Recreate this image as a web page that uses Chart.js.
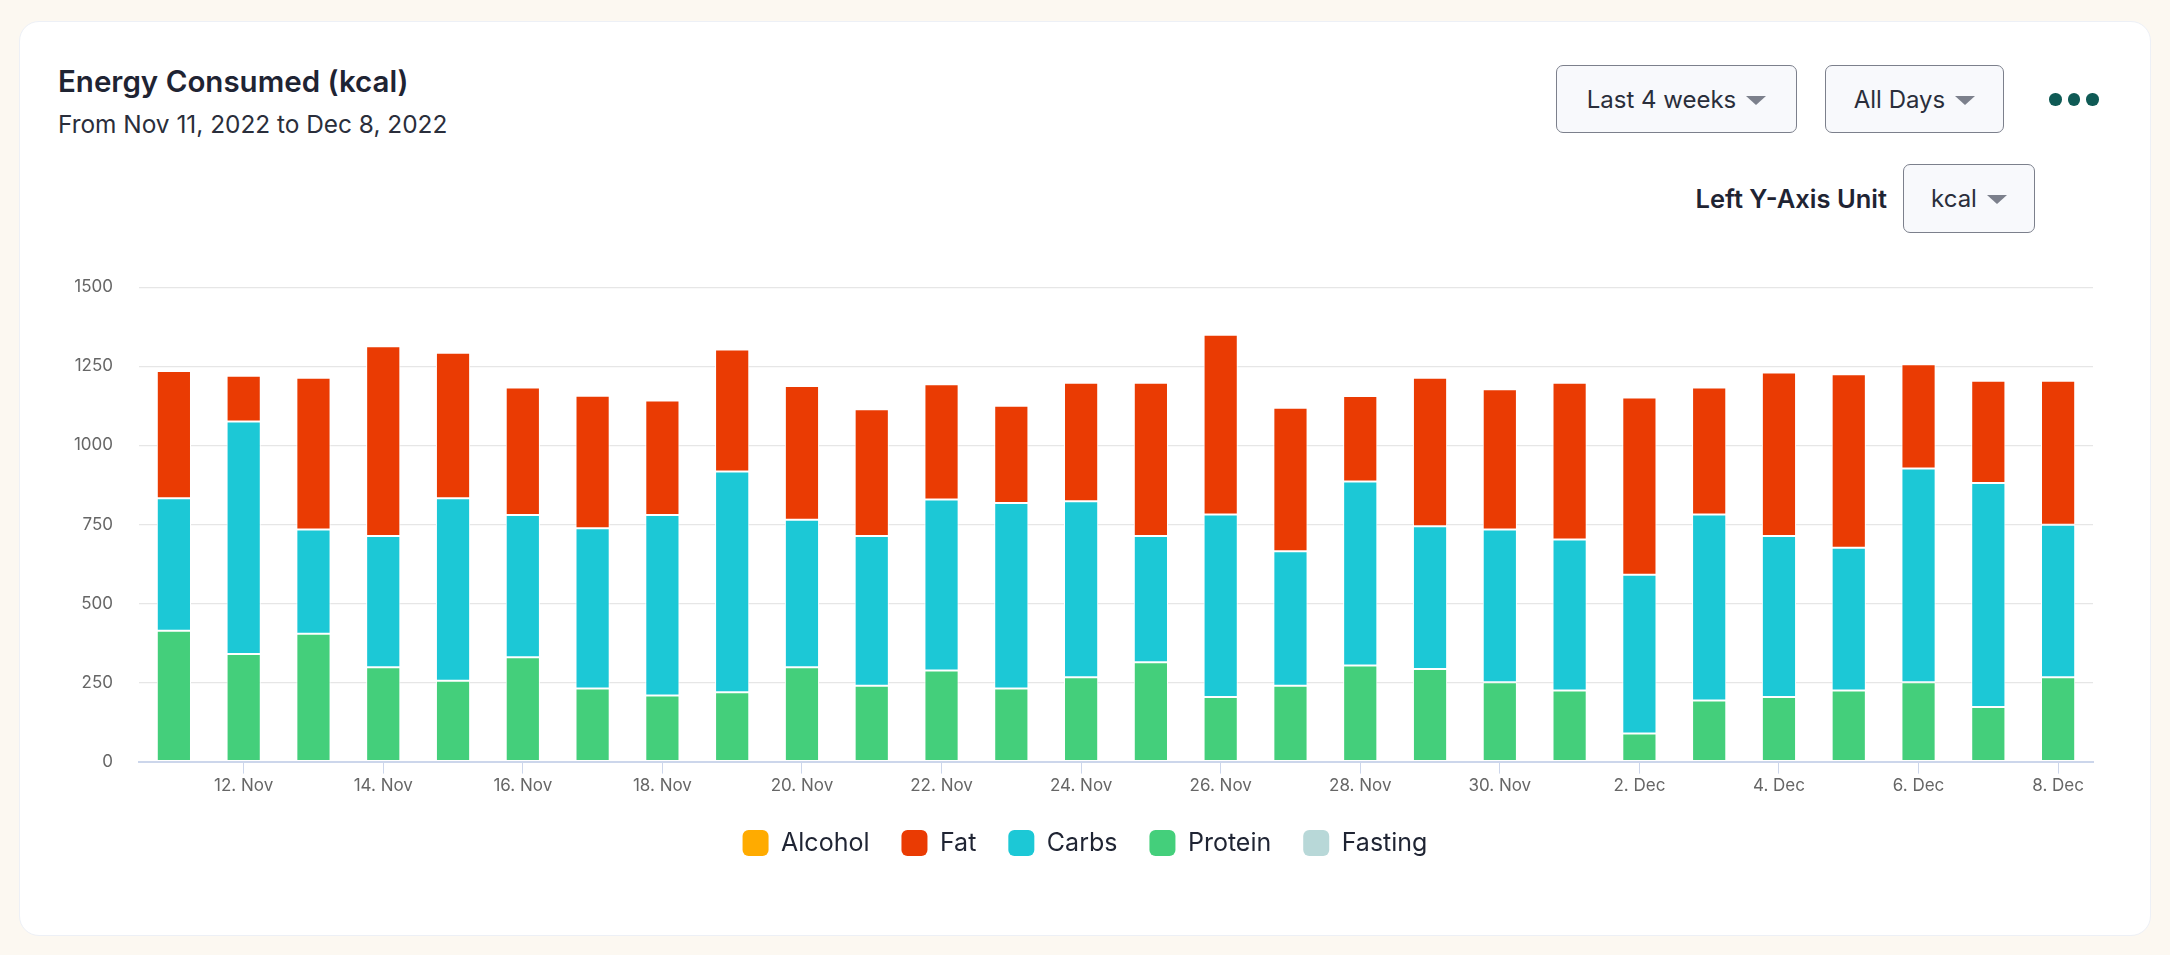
<!DOCTYPE html>
<html>
<head>
<meta charset="utf-8">
<script src="https://cdn.jsdelivr.net/npm/chart.js@4.4.0/dist/chart.umd.min.js"></script>
<style>
  body { margin: 0; width: 2170px; height: 955px; overflow: hidden; position: relative;
         background: #fcf8f1; font-family: Inter, "Noto Sans", sans-serif; color: #1f2433; }
  .card { position: absolute; left: 19px; top: 21px; width: 2132px; height: 915px; background: #fff;
          border: 1px solid #edf0f6; border-radius: 20px; box-sizing: border-box; }
  .title { position: absolute; left: 58px; top: 67px; font-size: 29.5px; line-height: 29.5px; font-weight: 600; white-space: nowrap; }
  .sub { position: absolute; left: 58px; top: 112px; font-size: 24.4px; line-height: 25px; color: #2a2e3b; white-space: nowrap; }
  .btn { position: absolute; display: flex; align-items: center; justify-content: center; gap: 10px;
         background: #f8f9fc; border: 1.5px solid #7c808c; border-radius: 7px; box-sizing: border-box;
         font-size: 24px; color: #2a2e3b; }
  .caret { width: 0; height: 0; border-left: 10px solid transparent; border-right: 10px solid transparent;
           border-top: 9px solid #7c808c; margin-top: 2px; }
  .dots { position: absolute; left: 2049px; top: 93px; display: flex; gap: 6px; }
  .dots span { width: 12.5px; height: 12.5px; border-radius: 50%; background: #0f5a55; }
  .unit { position: absolute; right: 283px; top: 186px; font-size: 25.5px; line-height: 25px; font-weight: 600; white-space: nowrap; }
  #wrap { position: absolute; left: 40px; top: 251px; width: 2090px; height: 627px; }
</style>
</head>
<body>
<div class="card"></div>
<div class="title">Energy Consumed (kcal)</div>
<div class="sub">From Nov 11, 2022 to Dec 8, 2022</div>
<div class="btn" style="left:1556px;top:65px;width:241px;height:68px">Last 4 weeks<span class="caret"></span></div>
<div class="btn" style="left:1825px;top:65px;width:179px;height:68px">All Days<span class="caret"></span></div>
<div class="dots"><span></span><span></span><span></span></div>
<div class="unit">Left Y-Axis Unit</div>
<div class="btn" style="left:1903px;top:164px;width:132px;height:69px">kcal<span class="caret"></span></div>
<div id="wrap"><canvas id="energyChart"></canvas></div>

<script>
'use strict';

// 日付ラベル
const days = ['11. Nov', '12. Nov', '13. Nov', '14. Nov', '15. Nov', '16. Nov', '17. Nov',
              '18. Nov', '19. Nov', '20. Nov', '21. Nov', '22. Nov', '23. Nov', '24. Nov',
              '25. Nov', '26. Nov', '27. Nov', '28. Nov', '29. Nov', '30. Nov', '1. Dec',
              '2. Dec', '3. Dec', '4. Dec', '5. Dec', '6. Dec', '7. Dec', '8. Dec'];

// kcal per day
const protein = [414, 340, 404, 298, 256, 330, 231, 209, 219, 298, 240, 288, 231, 267,
                 314, 204, 240, 304, 293, 251, 225, 89, 193, 204, 225, 251, 173, 267];
const carbs   = [419, 735, 330, 415, 577, 450, 507, 571, 698, 467, 473, 541, 587, 556,
                 399, 577, 425, 582, 451, 483, 477, 502, 588, 509, 451, 676, 708, 482];
const fat     = [402, 145, 480, 600, 460, 403, 419, 362, 386, 423, 401, 364, 307, 375,
                 485, 569, 454, 270, 470, 443, 496, 560, 402, 517, 549, 329, 323, 455];
const alcohol = [];
const fasting = [];

const yTicks = [0, 250, 500, 750, 1000, 1250, 1500];

// 凡例の並び順
const legendOrder = ['Alcohol', 'Fat', 'Carbs', 'Protein', 'Fasting'];

const tickFont = { family: 'Inter', size: 17 };

{
    const ctx = document.getElementById('energyChart');
    const bar = (label, data, color) => ({
        label: label,
        data: data,
        backgroundColor: color,
        borderColor: '#ffffff',
        borderWidth: 1,
        borderSkipped: false,
        categoryPercentage: 1,
        barPercentage: 0.49,
        stack: 'kcal'
    });

    new Chart(ctx, {
        type: 'bar',
        data: {
            labels: days,
            // stacked from the bottom: protein, carbs, fat, alcohol
            datasets: [
                bar('Protein', protein, '#44cf7b'),
                bar('Carbs', carbs, '#1cc8d6'),
                bar('Fat', fat, '#ea3b03'),
                bar('Alcohol', alcohol, '#ffab00'),
                bar('Fasting', fasting, '#b8d8d8')
            ]
        },
        options: {
            responsive: true,
            maintainAspectRatio: false,
            animation: false,
            layout: { padding: { top: 3, right: 0, bottom: 12, left: 0 } },
            plugins: {
                tooltip: { enabled: false },
                legend: {
                    position: 'bottom',
                    labels: {
                        font: { family: 'Inter', size: 25 },
                        color: '#1f2433',
                        boxWidth: 26,
                        boxHeight: 26,
                        useBorderRadius: true,
                        borderRadius: 6,
                        padding: 32,
                        sort: (a, b) => legendOrder.indexOf(a.text) - legendOrder.indexOf(b.text),
                        generateLabels: (chart) => chart.data.datasets.map((ds, i) => ({
                            text: ds.label,
                            fillStyle: ds.backgroundColor,
                            strokeStyle: ds.backgroundColor,
                            lineWidth: 0,
                            borderRadius: 6,
                            fontColor: '#1f2433',
                            hidden: !chart.isDatasetVisible(i),
                            datasetIndex: i
                        }))
                    }
                }
            },
            scales: {
                x: {
                    stacked: true,
                    offset: true,
                    grid: {
                        display: true,
                        offset: false,
                        drawOnChartArea: false,
                        drawTicks: true,
                        tickLength: 12,
                        color: '#ccd6eb'
                    },
                    border: { display: true, color: '#ccd6eb', width: 2 },
                    ticks: {
                        autoSkip: false,
                        maxRotation: 0,
                        color: '#666666',
                        font: tickFont,
                        padding: 2,
                        // 2日おきにラベル表示
                        callback: function (value, index) {
                            return index % 2 === 1 ? this.getLabelForValue(value) : null;
                        }
                    }
                },
                y: {
                    stacked: true,
                    min: yTicks[0],
                    max: yTicks[yTicks.length - 1],
                    afterBuildTicks: (scale) => { scale.ticks = yTicks.map(v => ({ value: v })); },
                    afterFit: (scale) => { scale.width = 99; },
                    grid: { color: '#e6e6e6', lineWidth: 1.3, drawTicks: false },
                    border: { display: false },
                    ticks: { color: '#666666', font: tickFont, padding: 26, callback: (v) => String(v) }
                },
                // 右側の余白（凡例をカード中央に揃える）
                yRight: {
                    position: 'right',
                    afterFit: (scale) => { scale.width = 37; },
                    grid: { display: false },
                    border: { display: false },
                    ticks: { display: false }
                }
            }
        }
    });
}
</script>
</body>
</html>
